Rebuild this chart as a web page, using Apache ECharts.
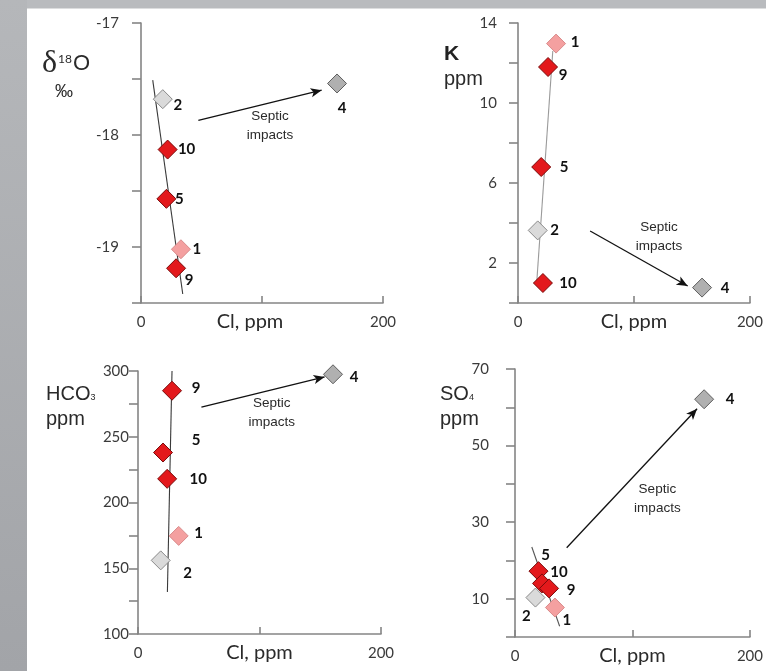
<!DOCTYPE html>
<html><head><meta charset="utf-8">
<script src="https://cdn.jsdelivr.net/npm/echarts@6/dist/echarts.min.js"></script>
<style>html,body{margin:0;padding:0;background:#fff}#c{width:766px;height:671px}</style>
</head><body><div id="c"></div>
<script>
// ---- data ----
const samples = ['1', '2', '4', '5', '10', '9'];

const clO   = [33, 18, 162, 21, 22, 29];
const d18O  = [-19.02, -17.68, -17.54, -18.57, -18.13, -19.19];

const clK   = [32.8, 17, 158.7, 20, 21.5, 25.9];
const kPpm  = [12.97, 3.63, 0.77, 6.8, 1.0, 11.8];

const clHCO3 = [33.5, 18.7, 160.5, 20.6, 24, 28];
const hco3   = [174.6, 156, 297.5, 238, 218, 285];

const clSO4 = [34, 17.4, 161, 20, 23, 29];
const so4   = [7.7, 10.3, 62.1, 17.2, 14, 12.7];

// trend lines and septic arrows (data coordinates: [Cl, value])
const trendO    = [[9.7, -17.51], [34.5, -19.42]];
const arrowO    = [[47.4, -17.87], [149.3, -17.60]];
const septicO   = [106.6, -17.92];
const trendK    = [[16, 0.9], [30, 12.6]];
const arrowK    = [[62.2, 3.6], [146.3, 0.85]];
const septicK   = [121.5, 3.3];
const trendH    = [[28, 300], [24.2, 132]];
const arrowH    = [[52.2, 272.6], [153.6, 295.5]];
const septicH   = [110, 268.6];
const trendS    = [[14.3, 23.5], [38, 2.8]];
const arrowS    = [[44, 23.3], [155, 59.6]];
const septicS   = [121.2, 36.2];

const xTicks = [0, 200];
const septicText = 'Septic\nimpacts';

// ---- styles ----
const markerStyle = {
  '1':  {color: '#f4a0a0', borderColor: '#d98a8a', borderWidth: 1, opacity: 1},
  '2':  {color: '#dadada', borderColor: '#8a8a8a', borderWidth: 1, opacity: 1},
  '4':  {color: '#b0b0b0', borderColor: '#5e5e5e', borderWidth: 1, opacity: 1},
  '5':  {color: '#e3191c', borderColor: '#7a0a0a', borderWidth: 1, opacity: 1},
  '9':  {color: '#e3191c', borderColor: '#7a0a0a', borderWidth: 1, opacity: 1},
  '10': {color: '#e3191c', borderColor: '#7a0a0a', borderWidth: 1, opacity: 1}
};

const panels = [
  {grid: {left: 141, top: 23, width: 242, height: 280},
   y: {min: -19.5, max: -17, interval: 0.5}, showLab: v => Math.abs(v - Math.round(v)) < 1e-6,
   margin: 22, cl: clO, val: d18O, trend: trendO, arrow: arrowO, septic: septicO,
   trendColor: '#3a3a3a', namePad: [0, 24, 0, 0],
   offs: {'2': [15, 6], '10': [19, 0], '5': [13, 0], '1': [16, 0], '9': [13, 12], '4': [5, 25]}},
  {grid: {left: 518, top: 23, width: 242, height: 280},
   y: {min: 0, max: 14, interval: 2}, showLab: v => (Math.round(v / 2) % 2) === 1,
   margin: 21, cl: clK, val: kPpm, trend: trendK, arrow: arrowK, septic: septicK,
   trendColor: '#9a9a9a', namePad: [0, 0, 0, 0],
   offs: {'1': [19, -1], '9': [15, 8], '5': [23, 0], '2': [17, 0], '10': [25, 0], '4': [23, 1]}},
  {grid: {left: 138, top: 371, width: 243, height: 263},
   y: {min: 100, max: 300, interval: 25}, showLab: v => Math.round(v) % 50 === 0,
   margin: 9, cl: clHCO3, val: hco3, trend: trendH, arrow: arrowH, septic: septicH,
   trendColor: '#3a3a3a', namePad: [0, 0, 0, 0],
   offs: {'9': [24, -3], '5': [33, -12], '10': [31, 0], '1': [20, -3], '2': [27, 13], '4': [21, 3]}},
  {grid: {left: 515, top: 369, width: 242, height: 268},
   y: {min: 0, max: 70, interval: 10}, showLab: v => (Math.round(v / 10) % 2) === 1,
   margin: 26, cl: clSO4, val: so4, trend: trendS, arrow: arrowS, septic: septicS,
   trendColor: '#555555', namePad: [0, 0, 0, 0],
   offs: {'5': [7, -16], '10': [17, -11], '9': [22, 2], '2': [-9, 19], '1': [12, 13], '4': [26, 0]}}
];

const axisCol = '#858585';
const labFont = 'Lato, "Open Sans", sans-serif';
const arialFont = '"Liberation Sans", Arial, sans-serif';

const option = {
  backgroundColor: '#ffffff',
  animation: false,
  grid: [], xAxis: [], yAxis: [], series: [],
  graphic: [
    {type: 'rect', left: 0, top: 0, shape: {width: 766, height: 8.5}, style: {fill: '#b9bbbe'}, z: -10},
    {type: 'rect', left: 0, top: 0, shape: {width: 27, height: 671},
     style: {fill: new echarts.graphic.LinearGradient(0, 0, 0, 1, [{offset: 0, color: '#b5b7ba'}, {offset: 1, color: '#a2a4a8'}])}, z: -10},
    {type: 'text', left: 42, top: 48,
     style: {text: '{d|δ}{s|18}{o|O}', rich: {
       d: {fontFamily: '"Liberation Serif", serif', fontSize: 32, fill: '#2a2a2a'},
       s: {fontFamily: 'Lato, sans-serif', fontSize: 12, fill: '#2a2a2a', padding: [0, 1, 10, 1]},
       o: {fontFamily: arialFont, fontSize: 22, fill: '#2a2a2a'}}}},
    {type: 'text', left: 55, top: 83, style: {text: '‰', fontFamily: arialFont, fontSize: 18, fill: '#2a2a2a'}},
    {type: 'text', left: 444, top: 44, style: {text: 'K', fontFamily: arialFont, fontWeight: 'bold', fontSize: 21, fill: '#222'}},
    {type: 'text', left: 444, top: 69, style: {text: 'ppm', fontFamily: arialFont, fontSize: 20, fill: '#2a2a2a'}},
    {type: 'text', left: 46, top: 384,
     style: {text: '{n|HCO}{s|3}', rich: {
       n: {fontFamily: arialFont, fontSize: 20, fill: '#2a2a2a'},
       s: {fontFamily: arialFont, fontSize: 9, fill: '#2a2a2a', padding: [8, 0, 0, 0]}}}},
    {type: 'text', left: 46, top: 409, style: {text: 'ppm', fontFamily: arialFont, fontSize: 20, fill: '#2a2a2a'}},
    {type: 'text', left: 440, top: 384,
     style: {text: '{n|SO}{s|4}', rich: {
       n: {fontFamily: arialFont, fontSize: 20, fill: '#2a2a2a'},
       s: {fontFamily: arialFont, fontSize: 9, fill: '#2a2a2a', padding: [8, 0, 0, 0]}}}},
    {type: 'text', left: 440, top: 409, style: {text: 'ppm', fontFamily: arialFont, fontSize: 20, fill: '#2a2a2a'}}
  ]
};

panels.forEach((p, i) => {
  option.grid.push(p.grid);
  option.xAxis.push({
    type: 'value', gridIndex: i, min: 0, max: 200, interval: 100,
    name: 'Cl, ppm', nameLocation: 'middle', nameGap: 9, nameMoveOverlap: false,
    nameTextStyle: {fontFamily: labFont, fontSize: 20, color: '#2a2a2a', padding: p.namePad, verticalAlign: 'top'},
    axisLine: {show: true, onZero: false, lineStyle: {color: axisCol, width: 1.6}},
    axisTick: {show: true, inside: true, length: 7, lineStyle: {color: axisCol, width: 1.6}},
    axisLabel: {margin: 12, fontFamily: labFont, fontSize: 15, color: '#3a3a3a',
      formatter: v => xTicks.indexOf(v) >= 0 ? String(v) : ''},
    splitLine: {show: false}
  });
  option.yAxis.push({
    type: 'value', gridIndex: i, min: p.y.min, max: p.y.max, interval: p.y.interval,
    axisLine: {show: true, onZero: false, lineStyle: {color: axisCol, width: 1.6}},
    axisTick: {show: true, inside: false, length: 9, lineStyle: {color: axisCol, width: 1.6}},
    axisLabel: {margin: p.margin, fontFamily: labFont, fontSize: 15, color: '#3a3a3a',
      formatter: v => p.showLab(v) ? String(Math.round(v)) : ''},
    splitLine: {show: false}
  });
  // trend line + arrow
  option.series.push({
    type: 'line', xAxisIndex: i, yAxisIndex: i, data: [], silent: true,
    markLine: {
      silent: true, animation: false, label: {show: false}, symbol: ['none', 'none'],
      data: [
        [{coord: p.trend[0], lineStyle: {color: p.trendColor, width: 1.1, type: 'solid'}}, {coord: p.trend[1]}],
        [{coord: p.arrow[0], symbol: 'none', lineStyle: {color: '#111', width: 1.3, type: 'solid'}},
         {coord: p.arrow[1], symbol: 'arrow', symbolSize: [7, 11]}]
      ]
    }
  });
  // septic text
  option.series.push({
    type: 'scatter', xAxisIndex: i, yAxisIndex: i, symbolSize: 0, silent: true,
    itemStyle: {opacity: 1},
    data: [p.septic],
    label: {show: true, position: 'inside', formatter: septicText, color: '#2a2a2a',
      fontFamily: arialFont, fontSize: 13.5, lineHeight: 19}
  });
  // samples
  option.series.push({
    type: 'scatter', xAxisIndex: i, yAxisIndex: i, symbol: 'diamond', symbolSize: 19,
    z: 5,
    data: samples.map((s, k) => ({
      name: s, value: [p.cl[k], p.val[k]], itemStyle: markerStyle[s],
      label: {offset: p.offs[s]}
    })),
    label: {show: true, position: 'inside', formatter: '{b}', color: '#111',
      fontFamily: labFont, fontWeight: 'bold', fontSize: 15}
  });
});

const chart = echarts.init(document.getElementById('c'), null, {renderer: 'canvas'});
chart.setOption(option);
</script>
</body></html>
